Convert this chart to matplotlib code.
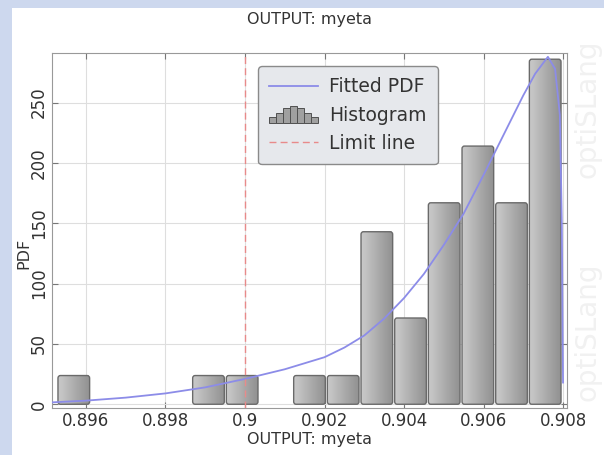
import numpy as np
import matplotlib
matplotlib.use("Agg")
import matplotlib.pyplot as plt
from matplotlib.patches import Rectangle, FancyBboxPatch
from matplotlib.legend_handler import HandlerBase
from matplotlib.lines import Line2D

# histogram of myeta (15 equal bins), density scale
BIN_LO = 0.89527
BIN_W = 0.000847
HEIGHTS = [23.8, 0, 0, 0, 23.8, 23.8, 0, 23.8, 23.8, 143, 71.5, 167, 214, 167, 286]

# fitted PDF
PDF_X = [0.8951, 0.896, 0.897, 0.898, 0.899, 0.900, 0.901, 0.902, 0.9025,
         0.903, 0.9035, 0.904, 0.9045, 0.905, 0.9055, 0.906, 0.9065,
         0.907, 0.9073, 0.90762, 0.9078, 0.90792, 0.90797, 0.90800]
PDF_Y = [1.5, 3, 5.5, 9, 14, 21, 29, 39, 47,
         57, 71, 88, 108, 132, 158, 190, 223,
         256, 274, 288, 278, 240, 150, 18]

LIMIT = 0.9
XTICKS = [0.896, 0.898, 0.9, 0.902, 0.904, 0.906, 0.908]
XTICKLABELS = ["0.896", "0.898", "0.9", "0.902", "0.904", "0.906", "0.908"]
YTICKS = [0, 50, 100, 150, 200, 250]

TXT = "#333333"


class HistIcon(HandlerBase):
    def create_artists(self, legend, orig, x0, y0, w, h, fs, trans):
        hs = [0.35, 0.6, 0.95, 1.05, 0.95, 0.6, 0.35]
        bw = w / len(hs)
        out = []
        for i, f in enumerate(hs):
            r = Rectangle((x0 + i * bw, y0 - 0.15 * h), bw, f * h * 1.2,
                          facecolor="#a0a0a0", edgecolor="#505050", lw=0.7,
                          transform=trans)
            out.append(r)
        return out


fig = plt.figure(figsize=(6.04, 4.55), dpi=100)
fig.patch.set_facecolor("white")

# light blue frame on the left and top
fig.patches.append(Rectangle((0, 0), 12 / 604, 1, transform=fig.transFigure,
                             facecolor="#cdd8ee", edgecolor="none", zorder=0))
fig.patches.append(Rectangle((0, 1 - 8 / 455), 1, 8 / 455, transform=fig.transFigure,
                             facecolor="#cdd8ee", edgecolor="none", zorder=0))

# watermark
for yy in (0.76, 0.27):
    fig.text(0.972, yy, "optiSLang", rotation=90, ha="center", va="center",
             fontsize=20, color="#f1f1f1", zorder=0)

ax = fig.add_axes([52 / 604, 1 - 408 / 455, (567 - 52) / 604, (408 - 52.7) / 455])
ax.set_xlim(0.895145, 0.9081)
ax.set_ylim(-3.1, 291.4)

grad = np.linspace(0.80, 0.56, 64).reshape(1, -1)
for i, h in enumerate(HEIGHTS):
    if h <= 0:
        continue
    x0 = BIN_LO + i * BIN_W
    box = FancyBboxPatch((x0 + BIN_W * 0.03, 0), BIN_W * 0.94, h,
                         boxstyle="round,pad=0,rounding_size=0.00006",
                         mutation_aspect=1 / 0.00006 * 2.2,
                         facecolor="none", edgecolor="#6a6a6a", lw=1.0, zorder=3)
    ax.add_patch(box)
    im = ax.imshow(grad, cmap="gray", vmin=0, vmax=1, aspect="auto",
                   extent=(x0, x0 + BIN_W, 0, h), zorder=2, interpolation="bilinear")
    im.set_clip_path(box)

ax.set_xlim(0.895145, 0.9081)
ax.set_ylim(-3.1, 291.4)

ax.plot(PDF_X, PDF_Y, color="#8c8ce8", lw=1.3, zorder=4)
ax.axvline(LIMIT, color="#e88a8a", lw=1.0, ls=(0, (5, 3)), zorder=4)

ax.set_xticks(XTICKS)
ax.set_xticklabels(XTICKLABELS)
ax.set_yticks(YTICKS)
ax.grid(True, color="#dedede", lw=0.8, zorder=0)
ax.set_axisbelow(True)
ax.tick_params(direction="in", top=True, right=True, length=4, color="#777777",
               labelsize=12, labelcolor=TXT, pad=3)
for lab in ax.get_yticklabels():
    lab.set_rotation(90)
    lab.set_va("center")
for s in ax.spines.values():
    s.set_color("#999999")

ax.set_title("OUTPUT: myeta", fontsize=11.5, color=TXT, pad=21)
ax.set_xlabel("OUTPUT: myeta", fontsize=11.5, color=TXT, labelpad=1)
ax.set_ylabel("PDF", fontsize=11.5, color=TXT)
ax.yaxis.set_label_coords(-0.041, 0.436)

handles = [Line2D([0], [0], color="#8c8ce8", lw=1.3),
           Rectangle((0, 0), 1, 1),
           Line2D([0], [0], color="#e88a8a", lw=1.0, ls=(0, (5, 3)))]
leg = ax.legend(handles, ["Fitted PDF", "Histogram", "Limit line"],
                handler_map={Rectangle: HistIcon()},
                loc="upper left", bbox_to_anchor=((258 - 52) / 515, 1 - (66 - 52.7) / 355.3),
                fontsize=13.5, frameon=True, fancybox=True, handlelength=2.6,
                handletextpad=0.6, labelspacing=0.5, borderpad=0.6,
                borderaxespad=0)
leg.get_frame().set_facecolor("#e6e8ec")
leg.get_frame().set_edgecolor("#8a8a8a")
leg.get_frame().set_alpha(1)
for t in leg.get_texts():
    t.set_color(TXT)

fig.savefig("out.png", dpi=100)
